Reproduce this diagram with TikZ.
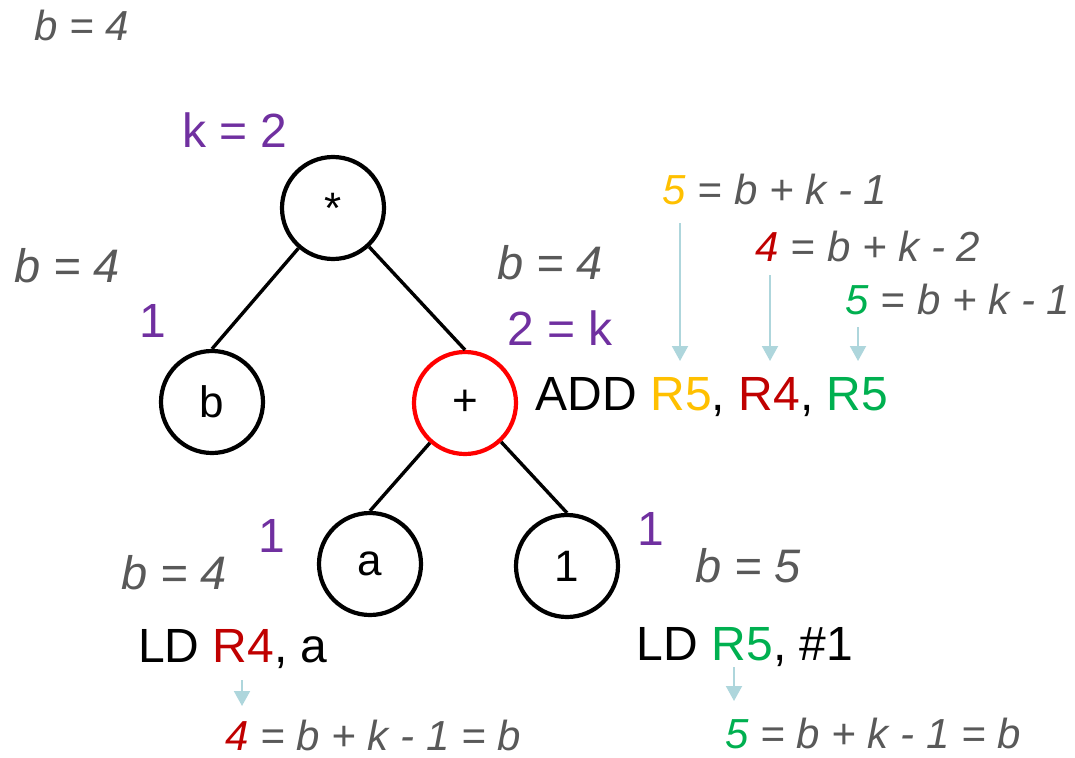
\documentclass[tikz,border=0pt]{standalone}
\usepackage{fontspec}
\setmainfont{Liberation Sans}
\usetikzlibrary{arrows.meta}
\definecolor{grayt}{HTML}{595959}
\definecolor{purp}{HTML}{7030A0}
\definecolor{orng}{HTML}{FFC000}
\definecolor{dred}{HTML}{C00000}
\definecolor{grn}{HTML}{00B050}
\definecolor{arrc}{HTML}{AED6DC}
\begin{document}
\begin{tikzpicture}[x=1pt,y=-1pt,
  tnode/.style={circle,draw=black,line width=4.2pt,minimum size=102pt,inner sep=0pt,font=\fontsize{44}{50}\selectfont},
  edge/.style={line width=3.4pt,black},
  gl/.style={anchor=base,inner sep=0pt,text=grayt,font=\fontsize{42}{48}\selectfont\itshape},
  glb/.style={gl,font=\fontsize{47}{54}\selectfont\itshape},
  pl/.style={anchor=base,inner sep=0pt,text=purp,font=\fontsize{48}{54}\selectfont},
  code/.style={anchor=base,inner sep=0pt,text=black,font=\fontsize{48}{54}\selectfont},
  flow/.style={arrc,line width=2pt,-{Triangle[width=16pt,length=15pt]}}]
\useasboundingbox (0,0) rectangle (1075,757);
% tree
\node[tnode] (star) at (333,208) {*};
\node[tnode] (nb) at (212,402) {b};
\node[tnode,draw=red] (plus) at (465,403) {+};
\node[tnode] (na) at (370,564) {a};
\node[tnode] (n1) at (567,566) {1};
\draw[edge] (star) -- (nb.north);
\draw[edge] (star) -- (plus.north);
\draw[edge] (plus) -- (na.north);
\draw[edge] (plus) -- (n1.north);
% labels
\node[gl] (b0) at (82,41) {b = 4};
\node[pl] (k0) at (235,147) {k = 2};
\node[glb] (b1) at (67,282) {b = 4};
\node[pl] (o1) at (153,337) {1};
\node[glb] (b2) at (550,279) {b = 4};
\node[pl] (k2) at (560,345) {2 = k};
\node[code] (add) at (712,410) {ADD \textcolor{orng}{R5}, \textcolor{dred}{R4}, \textcolor{grn}{R5}};
\node[gl] (e1) at (775,204) {\textcolor{orng}{5} = b + k - 1};
\node[gl] (e2) at (868,261) {\textcolor{dred}{4} = b + k - 2};
\node[gl] (e3) at (958,314) {\textcolor{grn}{5} = b + k - 1};
\node[pl] (o2) at (272,552) {1};
\node[glb] (b3) at (174,589) {b = 4};
\node[code] (ld1) at (233,662) {LD \textcolor{dred}{R4}, a};
\node[gl] (e4) at (373,750) {\textcolor{dred}{4} = b + k - 1 = b};
\node[pl] (o3) at (651,545) {1};
\node[glb] (b4) at (748,582) {b = 5};
\node[code] (ld2) at (745,660) {LD \textcolor{grn}{R5}, \#1};
\node[gl] (e5) at (873,748) {\textcolor{grn}{5} = b + k - 1 = b};
% arrows
\coordinate (a1s) at (680,223); \coordinate (a1e) at (680,361);
\coordinate (a2s) at (770,275); \coordinate (a2e) at (770,361);
\coordinate (a3s) at (858,327); \coordinate (a3e) at (858,361);
\coordinate (a4s) at (242,680); \coordinate (a4e) at (242,706);
\coordinate (a5s) at (734,667); \coordinate (a5e) at (734,701);
\draw[flow] (a1s) -- (a1e);
\draw[flow] (a2s) -- (a2e);
\draw[flow] (a3s) -- (a3e);
\draw[flow] (a4s) -- (a4e);
\draw[flow] (a5s) -- (a5e);
\end{tikzpicture}
\end{document}
